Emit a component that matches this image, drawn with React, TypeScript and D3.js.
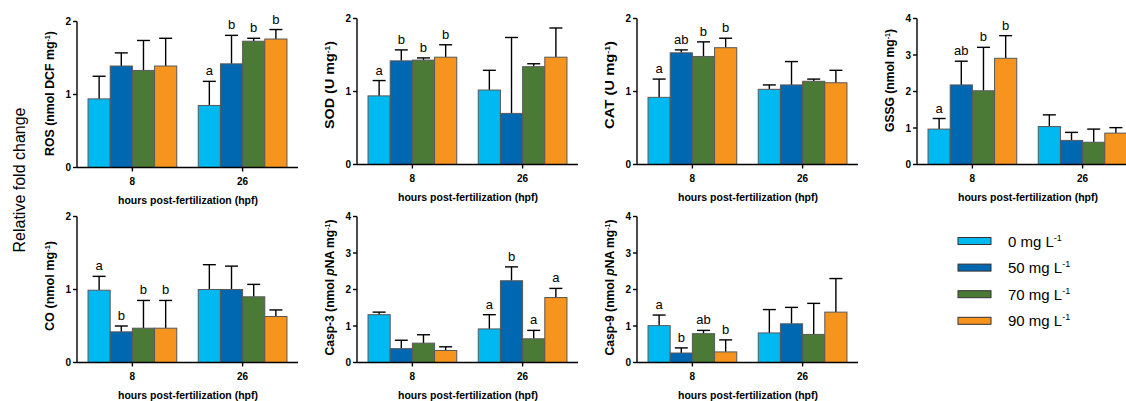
import React from "react";
import { scaleBand, scaleLinear } from "d3";

// groups on the x axis (hours post-fertilization)
const hours = ["8", "26"];
const doses = ["0 mg L", "50 mg L", "70 mg L", "90 mg L"];
const colors = ["#00b9f1", "#0067b1", "#4a7a36", "#f7941d"];

// means [8 hpf, 26 hpf] x 4 doses, sd = upper error bar length
const rosMean = [[0.94, 1.39, 1.33, 1.39], [0.85, 1.42, 1.73, 1.76]];
const rosSd = [[0.31, 0.18, 0.41, 0.38], [0.33, 0.39, 0.04, 0.13]];
const rosLetters = [["", "", "", ""], ["a", "b", "b", "b"]];

const sodMean = [[0.94, 1.42, 1.43, 1.47], [1.02, 0.70, 1.34, 1.47]];
const sodSd = [[0.21, 0.15, 0.03, 0.17], [0.27, 1.04, 0.04, 0.40]];
const sodLetters = [["a", "b", "b", "b"], ["", "", "", ""]];

const catMean = [[0.92, 1.53, 1.48, 1.60], [1.03, 1.09, 1.14, 1.12]];
const catSd = [[0.25, 0.04, 0.20, 0.13], [0.06, 0.32, 0.03, 0.17]];
const catLetters = [["a", "ab", "b", "b"], ["", "", "", ""]];

const gssgMean = [[0.97, 2.18, 2.02, 2.91], [1.04, 0.66, 0.61, 0.86]];
const gssgSd = [[0.29, 0.65, 1.19, 0.62], [0.32, 0.22, 0.36, 0.15]];
const gssgLetters = [["a", "ab", "b", "b"], ["", "", "", ""]];

const coMean = [[0.99, 0.42, 0.47, 0.47], [1.00, 1.00, 0.90, 0.63]];
const coSd = [[0.19, 0.08, 0.38, 0.38], [0.34, 0.32, 0.17, 0.09]];
const coLetters = [["a", "b", "b", "b"], ["", "", "", ""]];

const casp3Mean = [[1.31, 0.38, 0.53, 0.33], [0.92, 2.24, 0.65, 1.78]];
const casp3Sd = [[0.07, 0.23, 0.23, 0.10], [0.39, 0.38, 0.23, 0.25]];
const casp3Letters = [["", "", "", ""], ["a", "b", "a", "a"]];

const casp9Mean = [[1.01, 0.26, 0.79, 0.29], [0.81, 1.06, 0.77, 1.38]];
const casp9Sd = [[0.29, 0.14, 0.09, 0.33], [0.64, 0.45, 0.85, 0.92]];
const casp9Letters = [["a", "b", "ab", "b"], ["", "", "", ""]];

const ticks2 = [0, 1, 2];
const ticks4 = [0, 1, 2, 3, 4];

const FONT = "'Liberation Sans', Arial, Helvetica, sans-serif";

type Panel = {
  label: React.ReactNode;
  mean: number[][];
  sd: number[][];
  letters: string[][];
  ticks: number[];
  x0: number;
  y0: number; // y of zero line
  labLen: number; // drawn length of the rotated y label
  labY: number; // centre of the y label
};

const sup = (
  <>
    <tspan dy={-4} fontSize={7}>-1</tspan>
    <tspan dy={4}>)</tspan>
  </>
);

const panels: Panel[] = [
  { label: <>ROS (nmol  DCF mg{sup}</>, mean: rosMean, sd: rosSd, letters: rosLetters, ticks: ticks2, x0: 77, y0: 167.5, labLen: 125, labY: 93.5 },
  { label: <>SOD (U mg{sup}</>, mean: sodMean, sd: sodSd, letters: sodLetters, ticks: ticks2, x0: 357, y0: 164.5, labLen: 88, labY: 85 },
  { label: <>CAT (U mg{sup}</>, mean: catMean, sd: catSd, letters: catLetters, ticks: ticks2, x0: 637, y0: 164.5, labLen: 88, labY: 85 },
  { label: <>GSSG (nmol mg{sup}</>, mean: gssgMean, sd: gssgSd, letters: gssgLetters, ticks: ticks4, x0: 917, y0: 164.5, labLen: 103, labY: 80.5 },
  { label: <>CO (nmol mg{sup}</>, mean: coMean, sd: coSd, letters: coLetters, ticks: ticks2, x0: 77, y0: 362.5, labLen: 90, labY: 286 },
  { label: <>Casp-3 (nmol <tspan fontStyle="italic">p</tspan>NA mg{sup}</>, mean: casp3Mean, sd: casp3Sd, letters: casp3Letters, ticks: ticks4, x0: 357, y0: 362.5, labLen: 136, labY: 287.5 },
  { label: <>Casp-9 (nmol <tspan fontStyle="italic">p</tspan>NA mg{sup}</>, mean: casp9Mean, sd: casp9Sd, letters: casp9Letters, ticks: ticks4, x0: 637, y0: 362.5, labLen: 136, labY: 287.5 },
];

const PLOT_H = 146;
const PLOT_W = 221;

function BarPanel({ p }: { p: Panel }) {
  const yMax = p.ticks[p.ticks.length - 1];
  const y = scaleLinear().domain([0, yMax]).range([p.y0, p.y0 - PLOT_H]);
  const xg = scaleBand().domain(hours).range([p.x0, p.x0 + PLOT_W]).paddingInner(0.195).paddingOuter(0.1);
  const xb = scaleBand().domain(doses).range([0, xg.bandwidth()]);
  const cap = 13;

  return (
    <g fontFamily={FONT}>
      {hours.map((h, gi) =>
        doses.map((d, di) => {
          const m = p.mean[gi][di];
          const top = m + p.sd[gi][di];
          const bx = (xg(h) as number) + (xb(d) as number);
          const cx = bx + xb.bandwidth() / 2;
          return (
            <g key={h + d}>
              <line x1={cx} x2={cx} y1={y(m)} y2={y(top)} stroke="#000" strokeWidth={1.4} />
              <line x1={cx - cap / 2} x2={cx + cap / 2} y1={y(top)} y2={y(top)} stroke="#000" strokeWidth={1.4} />
              <rect x={bx} y={y(m)} width={xb.bandwidth()} height={p.y0 - y(m)} fill={colors[di]} stroke="#595959" strokeWidth={1} />
              {p.letters[gi][di] && (
                <text x={cx} y={y(top) - 6} textAnchor="middle" fontSize={13}>{p.letters[gi][di]}</text>
              )}
            </g>
          );
        })
      )}
      {/* y axis */}
      <line x1={p.x0} x2={p.x0} y1={p.y0} y2={p.y0 - PLOT_H} stroke="#000" strokeWidth={1.4} />
      {p.ticks.map((t) => (
        <g key={t}>
          <line x1={p.x0 - 4} x2={p.x0} y1={y(t)} y2={y(t)} stroke="#000" strokeWidth={1.4} />
          <text x={p.x0 - 6} y={y(t) + 3.5} textAnchor="end" fontSize={10} fontWeight="bold">{t}</text>
        </g>
      ))}
      {/* x axis */}
      <line x1={p.x0} x2={p.x0 + PLOT_W} y1={p.y0} y2={p.y0} stroke="#000" strokeWidth={1.4} />
      {hours.map((h) => {
        const cx = (xg(h) as number) + xg.bandwidth() / 2;
        return (
          <g key={h}>
            <line x1={cx} x2={cx} y1={p.y0} y2={p.y0 + 4} stroke="#000" strokeWidth={1.4} />
            <text x={cx} y={p.y0 + 17} textAnchor="middle" fontSize={10} fontWeight="bold">{h}</text>
          </g>
        );
      })}
      <text x={p.x0 + 111} y={p.y0 + 36} textAnchor="middle" fontSize={10.5} fontWeight="bold">hours post-fertilization (hpf)</text>
      <text
        transform={`translate(${p.x0 - 23},${p.labY}) rotate(-90)`}
        textAnchor="middle"
        fontSize={12}
        fontWeight="bold"
        textLength={p.labLen}
        lengthAdjust="spacingAndGlyphs"
      >
        {p.label}
      </text>
    </g>
  );
}

export default function App() {
  return (
    <svg width={1126} height={401} style={{ position: "absolute", left: 0, top: 0, background: "#fff" }}>
      <rect width={1126} height={401} fill="#fff" />
      <text transform="translate(25,180) rotate(-90)" textAnchor="middle" fontSize={16} fontFamily={FONT}>Relative fold change</text>
      {panels.map((p, i) => <BarPanel key={i} p={p} />)}
      <g fontFamily={FONT}>
        {doses.map((d, i) => (
          <g key={d} transform={`translate(958,${241 + i * 26.6})`}>
            <rect x={0} y={-3.5} width={33} height={7} fill={colors[i]} stroke="#333" strokeWidth={1} />
            <text x={50} y={5.5} fontSize={15}>{d}<tspan dy={-6} fontSize={9}>-1</tspan></text>
          </g>
        ))}
      </g>
    </svg>
  );
}
